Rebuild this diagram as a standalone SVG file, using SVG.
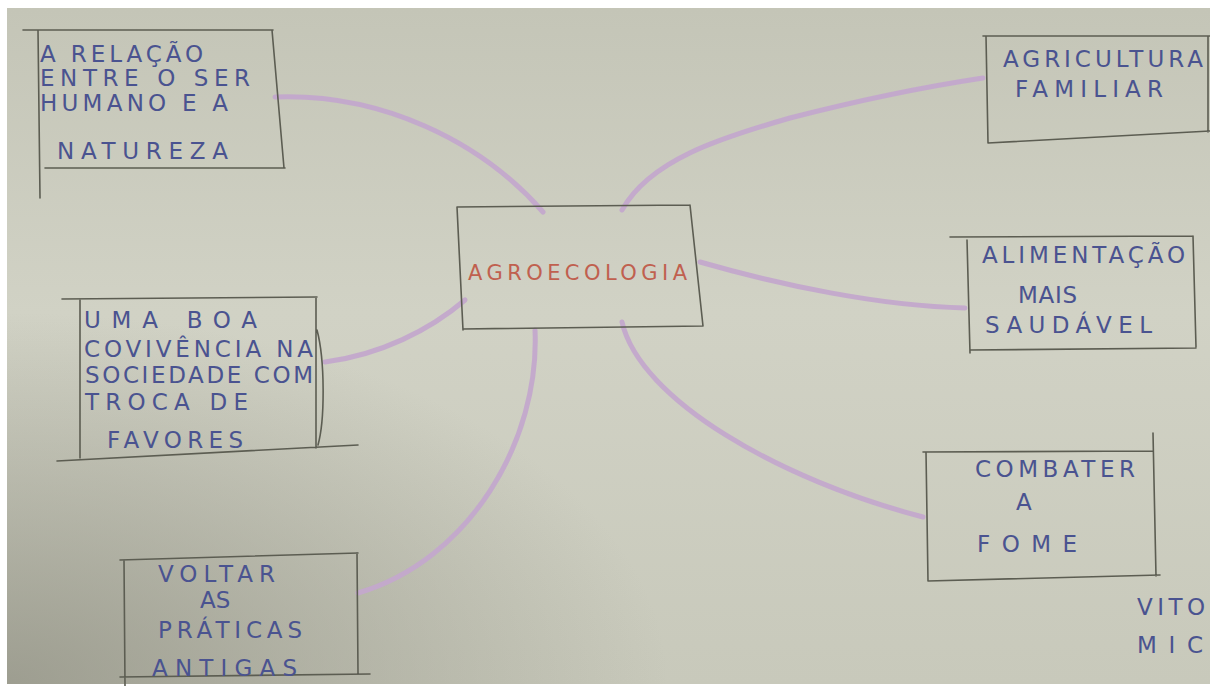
<svg xmlns="http://www.w3.org/2000/svg" width="1210" height="686" viewBox="0 0 1210 686">
<defs>
<style>
.box{fill:none;stroke:#5c5d52;stroke-width:1.6;stroke-linecap:round}
.ink{font-family:"DejaVu Sans","Liberation Sans",sans-serif;font-size:23px;fill:#4a5390}
.red{font-family:"DejaVu Sans","Liberation Sans",sans-serif;font-size:21px;fill:#c0604f}
.con{fill:none;stroke:#c3a8cc;stroke-width:5;stroke-linecap:round;opacity:0.95}
</style>
<linearGradient id="paper" x1="0" y1="0" x2="0" y2="1">
<stop offset="0" stop-color="#c4c5b7"/>
<stop offset="0.45" stop-color="#d1d2c5"/>
<stop offset="1" stop-color="#c8c9bb"/>
</linearGradient>
<radialGradient id="shade" cx="0" cy="1" r="0.55">
<stop offset="0" stop-color="#8f8f82" stop-opacity="0.75"/>
<stop offset="1" stop-color="#8f8f82" stop-opacity="0"/>
</radialGradient>
</defs>
<rect x="0" y="0" width="1210" height="686" fill="#ffffff"/>
<rect x="7" y="8" width="1203" height="676" fill="url(#paper)"/>
<rect x="7" y="8" width="1203" height="676" fill="url(#shade)"/>

<g id="connectors">
<path class="con" d="M275,97 C380,93 480,140 543,212"/>
<path class="con" d="M622,210 C650,160 720,138 790,118 C860,100 930,86 983,78"/>
<path class="con" d="M700,262 C780,285 880,306 965,308"/>
<path class="con" d="M465,300 C430,330 380,355 325,362"/>
<path class="con" d="M535,330 C540,440 470,560 358,593"/>
<path class="con" d="M622,322 C640,400 780,480 923,517"/>
</g>

<g id="node-relacao">
<path class="box" d="M23,30 L273,30 M38,30 L40,198 M272,30 L284,168 M45,168 L285,168"/>
<text class="ink" x="40" y="62" textLength="163" lengthAdjust="spacing">A RELAÇÃO</text>
<text class="ink" x="40" y="86" textLength="210" lengthAdjust="spacing">ENTRE O SER</text>
<text class="ink" x="40" y="111" textLength="188" lengthAdjust="spacing">HUMANO E A</text>
<text class="ink" x="57" y="159" textLength="171" lengthAdjust="spacing">NATUREZA</text>
</g>

<g id="node-agricultura">
<path class="box" d="M983,36 L1210,36 M986,36 L988,143 M988,143 L1210,131 M1208,36 L1208,132"/>
<text class="ink" x="1003" y="67" textLength="200" lengthAdjust="spacing">AGRICULTURA</text>
<text class="ink" x="1015" y="97" textLength="148" lengthAdjust="spacing">FAMILIAR</text>
</g>

<g id="node-alimentacao">
<path class="box" d="M950,237 L1193,236 M967,240 L970,353 M1193,236 L1196,347 M970,350 L1196,348"/>
<text class="ink" x="982" y="263" textLength="203" lengthAdjust="spacing">ALIMENTAÇÃO</text>
<text class="ink" x="1018" y="303" textLength="59" lengthAdjust="spacing">MAIS</text>
<text class="ink" x="985" y="333" textLength="167" lengthAdjust="spacing">SAUDÁVEL</text>
</g>

<g id="node-agroecologia">
<path class="box" d="M457,207 L690,205 M457,207 L463,330 M463,329 L703,326 M690,205 L703,326"/>
<text class="red" x="468" y="280" textLength="219" lengthAdjust="spacing">AGROECOLOGIA</text>
</g>

<g id="node-convivencia">
<path class="box" d="M62,299 L317,297 M80,300 L80,458 M316,298 L316,448 M57,461 L358,445 M317,330 C325,360 325,420 318,445"/>
<text class="ink" x="84" y="328" textLength="173" lengthAdjust="spacing">UMA BOA</text>
<text class="ink" x="84" y="357" textLength="229" lengthAdjust="spacing">COVIVÊNCIA NA</text>
<text class="ink" x="85" y="383" textLength="228" lengthAdjust="spacing">SOCIEDADE COM</text>
<text class="ink" x="85" y="410" textLength="163" lengthAdjust="spacing">TROCA DE</text>
<text class="ink" x="107" y="448" textLength="136" lengthAdjust="spacing">FAVORES</text>
</g>

<g id="node-combater">
<path class="box" d="M923,452 L1153,451 M926,452 L928,581 M1153,433 L1156,576 M928,581 L1160,575"/>
<text class="ink" x="975" y="477" textLength="160" lengthAdjust="spacing">COMBATER</text>
<text class="ink" x="1016" y="510">A</text>
<text class="ink" x="977" y="552" textLength="100" lengthAdjust="spacing">FOME</text>
</g>

<g id="node-voltar">
<path class="box" d="M120,560 L358,553 M124,560 L125,686 M357,553 L358,673 M120,677 L370,674"/>
<text class="ink" x="158" y="582" textLength="117" lengthAdjust="spacing">VOLTAR</text>
<text class="ink" x="200" y="608">AS</text>
<text class="ink" x="158" y="638" textLength="144" lengthAdjust="spacing">PRÁTICAS</text>
<text class="ink" x="152" y="676" textLength="145" lengthAdjust="spacing">ANTIGAS</text>
</g>

<g id="signature">
<text class="ink" x="1137" y="615" textLength="68" lengthAdjust="spacing">VITO</text>
<text class="ink" x="1137" y="653" textLength="66" lengthAdjust="spacing">MIC</text>
</g>
</svg>
